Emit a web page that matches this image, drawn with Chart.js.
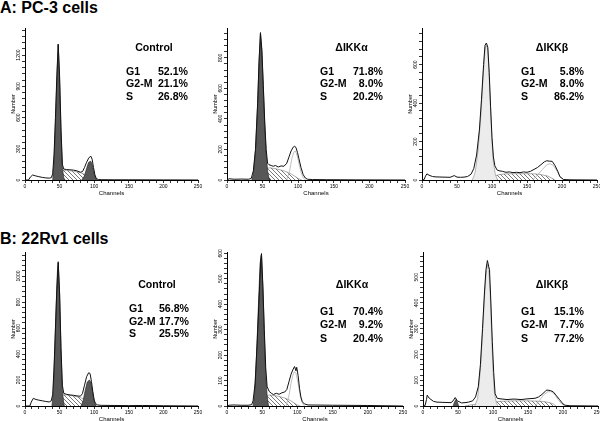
<!DOCTYPE html>
<html><head><meta charset="utf-8">
<script src="https://cdn.jsdelivr.net/npm/chart.js@4.4.1/dist/chart.umd.min.js"></script>
<style>
html,body{margin:0;padding:0;background:#fff;}
body{width:600px;height:421px;overflow:hidden;position:relative;font-family:"Liberation Sans",Arial,sans-serif;}
canvas{position:absolute;}
.txt{position:absolute;font-weight:bold;color:#000;white-space:nowrap;font-size:10.6px;line-height:12px;}
.ttl{position:absolute;font-weight:bold;color:#000;white-space:nowrap;font-size:16px;line-height:16px;}
</style></head><body>
<div class="ttl" style="left:0;top:0">A: PC-3 cells</div>
<div class="ttl" style="left:0;top:231px">B: 22Rv1 cells</div>
<script>
// ---------- data (channel, count) ----------
const phaseNames = ['G1', 'G2-M', 'S'];
const panelNames = ['Control', 'ΔIKKα', 'ΔIKKβ', 'Control', 'ΔIKKα', 'ΔIKKβ'];

const pc3ControlPct = [52.1, 21.1, 26.8];
const pc3IkkaPct = [71.8, 8.0, 20.2];
const pc3IkkbPct = [5.8, 8.0, 86.2];
const rv1ControlPct = [56.8, 17.7, 25.5];
const rv1IkkaPct = [70.4, 9.2, 20.4];
const rv1IkkbPct = [15.1, 7.7, 77.2];

// PC-3 Control
const pc3ControlTotal = [[0,0],[5,0],[8,30],[11,48],[15,40],[20,32],[25,25],[30,20],[35,18],[38,22],[40,60],[42,250],[44,600],[46,1000],[48,1305],[50,1000],[52,500],[54,150],[56,105],[60,100],[65,98],[70,95],[75,88],[80,75],[83,80],[86,120],[89,170],[92,210],[95,230],[97,200],[99,120],[101,50],[103,15],[106,5],[110,3],[130,2],[150,2],[200,1],[250,0]];
const pc3ControlG1 = [[40,0],[42,180],[44,550],[46,950],[48,1300],[50,950],[52,450],[54,120],[56,20],[58,0]];
const pc3ControlG2 = [[82,0],[86,40],[89,110],[92,170],[95,180],[97,150],[99,90],[101,35],[103,5],[104,0]];
const pc3ControlS = [[44,0],[46,60],[50,90],[55,95],[60,92],[70,85],[80,70],[88,50],[94,25],[98,8],[100,0]];

// PC-3 dIKKa
const pc3IkkaTotal = [[0,0],[3,8],[10,5],[20,6],[30,5],[34,10],[37,60],[40,200],[43,500],[45,780],[47,965],[49,850],[51,620],[53,380],[55,200],[57,110],[59,100],[62,95],[65,90],[68,95],[72,85],[76,92],[80,90],[84,110],[87,150],[90,190],[93,215],[95,222],[97,210],[99,180],[101,140],[104,80],[107,35],[110,13],[113,5],[120,3],[140,2],[180,1],[250,0]];
const pc3IkkaG1 = [[35,0],[37,40],[40,190],[43,490],[45,760],[47,960],[49,840],[51,600],[53,360],[55,170],[57,60],[59,10],[60,0]];
const pc3IkkaS = [[45,0],[50,50],[55,75],[60,80],[70,72],[80,60],[90,40],[95,25],[100,10],[105,0]];
const pc3IkkaG2Fit = [[84,0],[88,60],[91,140],[94,185],[96,190],[98,170],[101,110],[104,50],[107,15],[110,0]];

// PC-3 dIKKb
const pc3IkkbTotal = [[0,0],[3,2],[5,20],[7,32],[10,25],[15,18],[20,16],[30,15],[40,14],[43,18],[46,23],[50,15],[55,14],[60,15],[65,18],[70,30],[74,60],[78,130],[82,260],[85,420],[88,600],[90,700],[92,712],[94,690],[96,560],[98,380],[100,220],[102,120],[104,75],[107,53],[110,48],[115,45],[120,40],[125,42],[130,38],[135,40],[140,38],[145,42],[150,40],[155,45],[160,55],[165,65],[170,80],[175,95],[178,100],[182,98],[186,97],[190,75],[194,45],[197,17],[202,3],[210,1],[250,0]];
const pc3IkkbPeak = [[72,0],[76,40],[80,150],[84,330],[87,520],[90,680],[92,700],[94,680],[96,540],[98,360],[100,200],[102,90],[105,25],[108,0]];
const pc3IkkbS = [[90,0],[100,15],[110,28],[120,32],[140,33],[160,32],[170,28],[180,20],[185,10],[190,0]];
const pc3IkkbG2Fit = [[158,0],[165,25],[172,55],[178,78],[183,85],[188,75],[193,45],[198,15],[203,0]];

// 22Rv1 Control
const rv1ControlTotal = [[0,0],[7,0],[9,30],[12,59],[16,50],[20,45],[25,40],[30,35],[35,31],[38,40],[40,90],[42,300],[44,600],[46,900],[48,1110],[50,870],[52,450],[54,160],[56,97],[60,90],[65,85],[70,82],[75,78],[80,75],[83,95],[86,160],[89,225],[92,256],[94,250],[96,190],[98,110],[100,45],[102,18],[105,8],[110,5],[130,4],[150,3],[170,4],[200,2],[250,0]];
const rv1ControlG1 = [[39,0],[41,120],[43,420],[45,760],[47,1050],[48,1100],[50,860],[52,430],[54,120],[56,20],[57,0]];
const rv1ControlG2 = [[81,0],[84,40],[87,120],[90,185],[93,200],[95,185],[97,130],[99,65],[101,20],[103,0]];
const rv1ControlS = [[44,0],[47,60],[52,85],[60,85],[70,78],[80,65],[88,45],[94,25],[98,8],[101,0]];

// 22Rv1 dIKKa
const rv1IkkaTotal = [[0,0],[3,3],[10,4],[20,3],[30,3],[35,5],[37,20],[40,90],[43,260],[46,450],[48,580],[49,599],[51,470],[53,300],[55,150],[57,76],[60,57],[63,50],[66,45],[70,50],[74,46],[78,52],[82,55],[85,65],[88,95],[91,125],[94,145],[96,155],[98,138],[99,152],[101,120],[103,70],[105,35],[107,17],[110,8],[115,4],[150,3],[200,2],[250,0]];
const rv1IkkaG1 = [[37,0],[39,40],[42,200],[45,420],[47,560],[49,595],[51,460],[53,280],[55,120],[57,40],[59,0]];
const rv1IkkaS = [[45,0],[50,30],[55,40],[60,43],[70,40],[80,33],[90,22],[95,12],[100,4],[104,0]];
const rv1IkkaG2Fit = [[84,0],[88,40],[91,90],[94,125],[96,135],[98,128],[101,90],[104,40],[107,12],[110,0]];

// 22Rv1 dIKKb
const rv1IkkbTotal = [[0,0],[3,2],[5,25],[6,42],[9,30],[15,18],[20,15],[30,14],[40,13],[43,20],[46,33],[49,20],[55,12],[60,13],[65,15],[71,20],[75,35],[79,75],[82,160],[85,300],[88,450],[90,530],[92,565],[94,540],[95,530],[97,400],[99,250],[101,130],[103,48],[106,30],[110,28],[120,25],[130,27],[140,25],[150,28],[160,30],[165,35],[170,45],[175,58],[177,62],[182,60],[186,55],[190,42],[195,25],[200,8],[203,3],[210,1],[250,0]];
const rv1IkkbG1 = [[43,0],[45,15],[47,25],[49,15],[51,0]];
const rv1IkkbPeak = [[74,0],[78,30],[82,140],[85,280],[88,430],[90,510],[92,550],[94,530],[96,440],[98,280],[100,140],[102,50],[105,10],[107,0]];
const rv1IkkbS = [[60,0],[70,5],[90,12],[110,18],[130,20],[150,20],[170,18],[180,14],[186,8],[190,0]];
const rv1IkkbG2Fit = [[160,0],[166,20],[172,42],[178,55],[183,56],[188,45],[193,25],[198,8],[203,0]];

// axis ranges
const channelMin = 0, channelMax = 250, channelStep = 10, channelLabelStep = 50;
const yMaxes = [1460, 995, 790, 1185, 605, 598];
const yMinorSteps = [60, 40, 40, 40, 20, 20];
const yLabelSteps = [300, 200, 200, 200, 100, 100];

// ---------- layout ----------
const panels = [
  {name: panelNames[0], pct: pc3ControlPct, total: pc3ControlTotal, g1: pc3ControlG1, g2: pc3ControlG2, s: pc3ControlS,
   box: {left: 25, right: 198, top: 28, bottom: 180}, text: {cx: 154, lx: 126, rx: 188, hy: 41.3, ry: [65, 77.3, 90]}},
  {name: panelNames[1], pct: pc3IkkaPct, total: pc3IkkaTotal, g1: pc3IkkaG1, s: pc3IkkaS, fit: pc3IkkaG2Fit,
   box: {left: 227, right: 405, top: 28, bottom: 180}, text: {cx: 351.5, lx: 320, rx: 383, hy: 41.3, ry: [65, 77.3, 90]}},
  {name: panelNames[2], pct: pc3IkkbPct, total: pc3IkkbTotal, peak: pc3IkkbPeak, s: pc3IkkbS, fit: pc3IkkbG2Fit,
   box: {left: 422, right: 597, top: 28, bottom: 180}, text: {cx: 552, lx: 521, rx: 584, hy: 41.3, ry: [65, 77.3, 90]}},
  {name: panelNames[3], pct: rv1ControlPct, total: rv1ControlTotal, g1: rv1ControlG1, g2: rv1ControlG2, s: rv1ControlS,
   box: {left: 25, right: 198, top: 252, bottom: 406}, text: {cx: 157, lx: 129, rx: 189, hy: 278.3, ry: [302.3, 314.8, 327.3]}},
  {name: panelNames[4], pct: rv1IkkaPct, total: rv1IkkaTotal, g1: rv1IkkaG1, s: rv1IkkaS, fit: rv1IkkaG2Fit,
   box: {left: 227, right: 403, top: 252, bottom: 406}, text: {cx: 352, lx: 320, rx: 383, hy: 278.3, ry: [305, 318.3, 331.6]}},
  {name: panelNames[5], pct: rv1IkkbPct, total: rv1IkkbTotal, g1: rv1IkkbG1, peak: rv1IkkbPeak, s: rv1IkkbS, fit: rv1IkkbG2Fit,
   box: {left: 423, right: 598, top: 252, bottom: 406}, text: {cx: 552, lx: 521, rx: 584, hy: 278.3, ry: [305, 318.3, 331.6]}}
];

const Y_W = 16, X_H = 17, PAD_T = 4, PAD_R = 7;
const FONT = '"Liberation Sans", Arial, sans-serif';
Chart.defaults.font.family = FONT;
Chart.defaults.color = '#000';

function makeHatch(ctx) {
  const c = document.createElement('canvas');
  c.width = 4; c.height = 4;
  const x = c.getContext('2d');
  x.fillStyle = '#fff'; x.fillRect(0, 0, 4, 4);
  x.strokeStyle = '#6a6a6a'; x.lineWidth = 0.9;
  x.beginPath(); x.moveTo(-1, -1); x.lineTo(5, 5); x.stroke();
  return ctx.createPattern(c, 'repeat');
}

function addDiv(txt, style) {
  const d = document.createElement('div');
  d.className = 'txt';
  d.textContent = txt;
  Object.assign(d.style, style);
  document.body.appendChild(d);
}

panels.forEach((p, i) => {
  const b = p.box;
  const W = b.right - b.left + Y_W + PAD_R;
  const H = b.bottom - b.top + PAD_T + X_H;
  const cv = document.createElement('canvas');
  cv.width = W; cv.height = H;
  cv.style.left = (b.left - Y_W) + 'px';
  cv.style.top = (b.top - PAD_T) + 'px';
  cv.style.width = W + 'px';
  cv.style.height = H + 'px';
  document.body.appendChild(cv);
  const ctx = cv.getContext('2d');

  const ds = [];
  ds.push({data: p.total, borderColor: '#111', borderWidth: 1, fill: false});
  if (p.g1) ds.push({data: p.g1, borderColor: '#2a2a2a', borderWidth: 0.7, backgroundColor: '#575757', fill: 'origin'});
  if (p.g2) ds.push({data: p.g2, borderColor: '#2a2a2a', borderWidth: 0.7, backgroundColor: '#575757', fill: 'origin'});
  if (p.peak) ds.push({data: p.peak, borderColor: '#9a9a9a', borderWidth: 0.7, backgroundColor: '#ececec', fill: 'origin'});
  if (p.fit) ds.push({data: p.fit, borderColor: '#b0b0b0', borderWidth: 0.8, fill: false});
  ds.push({data: p.s, borderColor: '#777', borderWidth: 0.6, backgroundColor: makeHatch(ctx), fill: 'origin'});

  const yMax = yMaxes[i], yStep = yMinorSteps[i], yLab = yLabelSteps[i];
  const digits = String(Math.floor(yMax / yLab) * yLab).length;
  const yPad = 3 - digits * 0.556 * 5 / 2;

  const grid = {drawOnChartArea: false, drawTicks: true, tickLength: 3, tickColor: '#000', tickWidth: 0.8, color: '#000'};
  const border = {display: true, color: '#000', width: 1};

  new Chart(ctx, {
    type: 'line',
    data: {datasets: ds},
    options: {
      responsive: false, animation: false, devicePixelRatio: 1,
      layout: {padding: {top: PAD_T, right: PAD_R, left: 0, bottom: 0}},
      elements: {point: {radius: 0}, line: {tension: 0}},
      plugins: {legend: {display: false}, tooltip: {enabled: false}},
      scales: {
        x: {
          type: 'linear', min: channelMin, max: channelMax,
          ticks: {stepSize: channelStep, autoSkip: false, maxRotation: 0, minRotation: 0, padding: 1,
                  font: {size: 5}, callback: v => (v % channelLabelStep === 0 ? String(v) : '')},
          grid: grid, border: border,
          title: {display: true, text: 'Channels', font: {size: 6}, padding: {top: 0, bottom: 0}},
          afterFit: s => { s.height = X_H; }
        },
        y: {
          type: 'linear', min: 0, max: yMax,
          ticks: {stepSize: yStep, autoSkip: false, minRotation: 90, maxRotation: 90, crossAlign: 'center',
                  includeBounds: false, padding: yPad, font: {size: 5},
                  callback: v => (v % yLab === 0 ? String(v) : '')},
          grid: grid, border: border,
          title: {display: true, text: 'Number', font: {size: 5.5}, padding: {top: 1, bottom: 0}},
          afterFit: s => { s.width = Y_W; }
        }
      }
    }
  });

  const t = p.text;
  addDiv(p.name, {left: (t.cx - 40) + 'px', width: '80px', textAlign: 'center', top: t.hy + 'px'});
  phaseNames.forEach((ph, k) => {
    addDiv(ph, {left: t.lx + 'px', top: t.ry[k] + 'px'});
    addDiv(p.pct[k].toFixed(1) + '%', {right: (600 - t.rx) + 'px', top: t.ry[k] + 'px', textAlign: 'right'});
  });
});
</script>
</body></html>
